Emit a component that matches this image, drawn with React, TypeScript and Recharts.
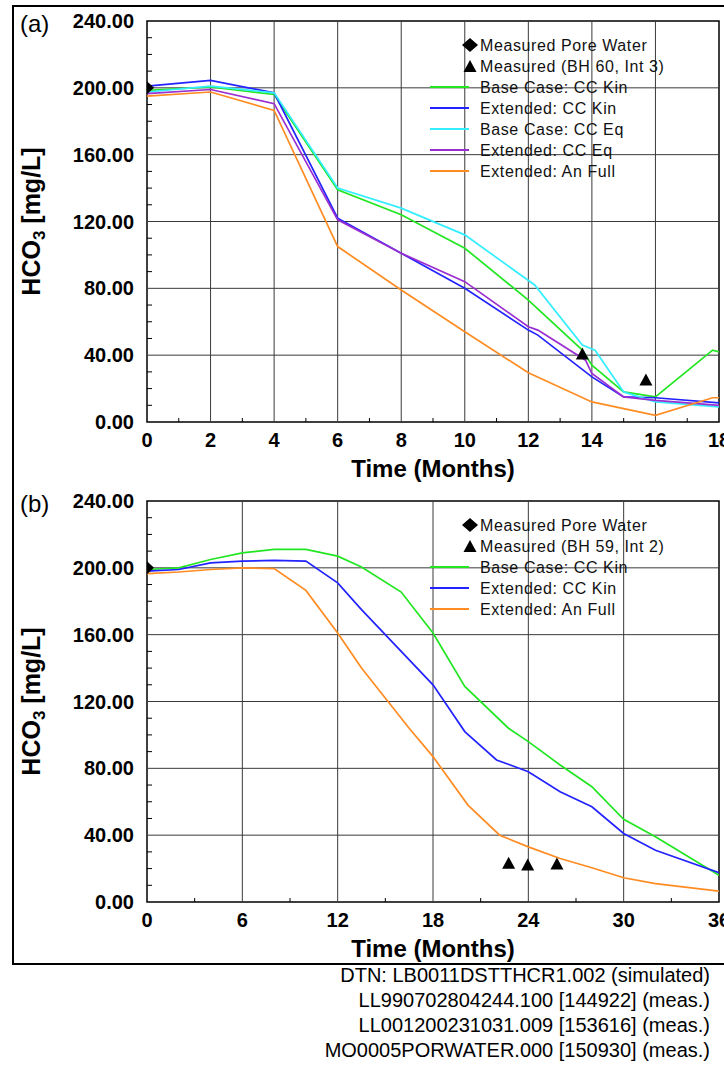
import React from 'react';
import { ComposedChart, Line, Scatter, XAxis, YAxis, ReferenceLine, ReferenceArea } from 'recharts';

const FONT = "'Liberation Sans', Arial, Helvetica, sans-serif";

// ---------- Panel (a) data ----------
const aTimeBaseKin = [0, 2, 4, 6, 8, 10, 12, 13.7, 14, 15, 16, 17.8, 18];
const aBaseKin = [198.5, 200.5, 196, 139, 124, 104, 73, 43, 34, 18, 15, 43, 42];
const aTimeExtKin = [0, 2, 4, 6, 8, 10, 12, 12.3, 14, 15, 16, 18];
const aExtKin = [201, 204.5, 197, 122, 101, 80, 55, 52, 27, 15, 14.5, 11.5];
const aTimeBaseEq = [0, 2, 4, 6, 8, 10, 12.2, 13.7, 14.1, 15, 16, 18];
const aBaseEq = [197.5, 201, 197, 140, 128, 112, 82, 46, 43, 18, 12, 9];
const aTimeExtEq = [0, 2, 4, 6, 8, 10, 12, 12.3, 13.8, 14, 15, 16, 18];
const aExtEq = [196.5, 199, 190.5, 121, 101, 84, 57, 55, 37, 29, 15, 13, 10];
const aTimeAnFull = [0, 2, 4, 6, 8, 10, 12, 14, 15, 16, 17.8, 18];
const aAnFull = [195, 197.5, 186.5, 105, 79, 54, 29.5, 12, 8, 4, 14.5, 14.5];
const aPoreTime = [0];
const aPore = [200];
const aMeasTime = [13.7, 15.7];
const aMeas = [40.7, 25.1];
const aXTicks = [0, 1, 2, 3, 4, 5, 6, 7, 8, 9, 10, 11, 12, 13, 14, 15, 16, 17, 18];
const aXMajor = [0, 2, 4, 6, 8, 10, 12, 14, 16, 18];

// ---------- Panel (b) data ----------
const bTimeBaseKin = [0, 2, 4, 6, 8, 10, 12, 13.5, 16, 18, 20, 22.75, 24, 26, 28, 30, 32, 36];
const bBaseKin = [199, 200, 205, 209, 211, 211, 207, 200.5, 185.5, 161, 129, 104, 96, 82, 69, 49.5, 39, 16];
const bTimeExtKin = [0, 2, 4, 6, 8, 10, 12, 13.5, 18, 20, 22, 24, 26, 28, 30, 32, 36];
const bExtKin = [198, 199, 203, 204, 204.5, 204, 191, 175, 130, 102, 85, 78, 66, 57, 41, 31, 17.5];
const bTimeAnFull = [0, 2, 4, 6, 8, 10, 12, 13.5, 16.5, 18, 20.2, 22.2, 24, 26, 28, 30, 32, 36];
const bAnFull = [196.5, 197.5, 199, 200, 199.5, 186.5, 161, 140, 104, 87, 58, 40, 33, 26, 20.5, 14.5, 11, 6.5];
const bPoreTime = [0];
const bPore = [200];
const bMeasTime = [22.76, 23.96, 25.8];
const bMeas = [23.2, 22.1, 22.7];
const bXTicks = [0, 3, 6, 9, 12, 15, 18, 21, 24, 27, 30, 33, 36];
const bXMajor = [0, 6, 12, 18, 24, 30, 36];

// ---------- shared ----------
const yTicks = [0, 10, 20, 30, 40, 50, 60, 70, 80, 90, 100, 110, 120, 130, 140, 150, 160, 170, 180, 190, 200, 210, 220, 230, 240];
const yMajor = [0, 40, 80, 120, 160, 200, 240];

const C_GREEN = '#22e622';
const C_BLUE = '#2323ff';
const C_CYAN = '#33eeff';
const C_PURPLE = '#9a2ed0';
const C_ORANGE = '#ff8c22';

const zip = (ts: number[], vs: number[]) => ts.map((t, i) => ({ t, v: vs[i] }));

const Diamond = (p: any) => {
  const { cx, cy } = p;
  return <polygon points={`${cx - 7},${cy} ${cx},${cy - 6.5} ${cx + 7},${cy} ${cx},${cy + 6.5}`} fill="#000" />;
};
const Triangle = (p: any) => {
  const { cx, cy } = p;
  return <polygon points={`${cx - 6.5},${cy + 5.5} ${cx},${cy - 6.5} ${cx + 6.5},${cy + 5.5}`} fill="#000" />;
};

const YTick = (props: any) => {
  const { x, y, payload } = props;
  const v = payload.value;
  const major = yMajor.includes(v);
  return (
    <g>
      {!major && <line x1={x} x2={x + 5} y1={y} y2={y} stroke="#000" strokeWidth={1} />}
      {major && (
        <text x={x - 13} y={y + 7} textAnchor="end" fontSize={20} fontWeight="bold" fontFamily={FONT} fill="#000">
          {v.toFixed(2)}
        </text>
      )}
    </g>
  );
};

const makeXTick = (majors: number[]) => (props: any) => {
  const { x, y, payload } = props;
  const v = payload.value;
  const major = majors.includes(v);
  return (
    <g>
      {!major && <line x1={x} x2={x} y1={y} y2={y - 4} stroke="#000" strokeWidth={1} />}
      {major && (
        <text x={x} y={y + 25} textAnchor="middle" fontSize={20} fontWeight="bold" fontFamily={FONT} fill="#000">
          {String(v)}
        </text>
      )}
    </g>
  );
};

type LineDef = { name: string; color: string; data: { t: number; v: number }[] };

function Panel(props: {
  top: number;
  xMax: number;
  xTicks: number[];
  xMajor: number[];
  lines: LineDef[];
  pore: { t: number; v: number }[];
  meas: { t: number; v: number }[];
}) {
  const { top, xMax, xTicks, xMajor, lines, pore, meas } = props;
  const XT = makeXTick(xMajor);
  return (
    <div style={{ position: 'absolute', left: 0, top, width: 724, height: 480 }}>
      <ComposedChart width={724} height={480} margin={{ top: 21, right: 5, bottom: 0, left: 0 }}>
        <XAxis
          type="number"
          dataKey="t"
          domain={[0, xMax]}
          ticks={xTicks}
          interval={0}
          tickSize={0}
          tickMargin={0}
          axisLine={false}
          tickLine={false}
          height={58}
          tick={XT}
          allowDataOverflow
        />
        <YAxis
          type="number"
          dataKey="v"
          domain={[0, 240]}
          ticks={yTicks}
          interval={0}
          tickSize={0}
          tickMargin={0}
          axisLine={false}
          tickLine={false}
          width={147}
          tick={YTick}
          allowDataOverflow
        />
        {xMajor
          .filter((x) => x > 0 && x < xMax)
          .map((x) => (
            <ReferenceLine key={'gx' + x} x={x} stroke="#3a3a3a" strokeWidth={1} />
          ))}
        {yMajor
          .filter((y) => y > 0 && y < 240)
          .map((y) => (
            <ReferenceLine key={'gy' + y} y={y} stroke="#3a3a3a" strokeWidth={1} />
          ))}
        <ReferenceArea x1={0} x2={xMax} y1={0} y2={240} fill="none" stroke="#000" strokeWidth={1.5} ifOverflow="visible" />
        {lines.map((l) => (
          <Line
            key={l.name}
            name={l.name}
            data={l.data}
            dataKey="v"
            type="linear"
            stroke={l.color}
            strokeWidth={1.7}
            dot={false}
            activeDot={false}
            isAnimationActive={false}
          />
        ))}
        <Scatter name="Measured Pore Water" data={pore} dataKey="v" shape={Diamond} isAnimationActive={false} />
        <Scatter name="Measured" data={meas} dataKey="v" shape={Triangle} isAnimationActive={false} />
      </ComposedChart>
    </div>
  );
}

function LegendBlock(props: { y0: number; triLabel: string; lines: LineDef[] }) {
  const { y0, triLabel, lines } = props;
  const dy = 21;
  const cx = 470;
  const textX = 480;
  const txt = (y: number, s: string) => (
    <text x={textX} y={y + 5.8} fontSize={16} letterSpacing={0.6} fontFamily={FONT} fill="#111">
      {s}
    </text>
  );
  return (
    <g>
      <polygon points={`${cx - 8},${y0} ${cx},${y0 - 7} ${cx + 8},${y0} ${cx},${y0 + 7}`} fill="#000" />
      {txt(y0, 'Measured Pore Water')}
      <polygon points={`${cx - 6.5},${y0 + dy + 6} ${cx},${y0 + dy - 6} ${cx + 6.5},${y0 + dy + 6}`} fill="#000" />
      {txt(y0 + dy, triLabel)}
      {lines.map((l, i) => {
        const y = y0 + dy * (i + 2);
        return (
          <g key={l.name}>
            <line x1={430} x2={469} y1={y} y2={y} stroke={l.color} strokeWidth={2} />
            {txt(y, l.name)}
          </g>
        );
      })}
    </g>
  );
}

export default function App() {
  const aLines: LineDef[] = [
    { name: 'Base Case: CC Kin', color: C_GREEN, data: zip(aTimeBaseKin, aBaseKin) },
    { name: 'Extended: CC Kin', color: C_BLUE, data: zip(aTimeExtKin, aExtKin) },
    { name: 'Base Case: CC Eq', color: C_CYAN, data: zip(aTimeBaseEq, aBaseEq) },
    { name: 'Extended: CC Eq', color: C_PURPLE, data: zip(aTimeExtEq, aExtEq) },
    { name: 'Extended: An Full', color: C_ORANGE, data: zip(aTimeAnFull, aAnFull) },
  ];
  const bLines: LineDef[] = [
    { name: 'Base Case: CC Kin', color: C_GREEN, data: zip(bTimeBaseKin, bBaseKin) },
    { name: 'Extended: CC Kin', color: C_BLUE, data: zip(bTimeExtKin, bExtKin) },
    { name: 'Extended: An Full', color: C_ORANGE, data: zip(bTimeAnFull, bAnFull) },
  ];

  const yTitle = (cy: number) => (
    <text
      transform={`translate(40, ${cy}) rotate(-90)`}
      textAnchor="middle"
      fontSize={25}
      fontWeight="bold"
      fontFamily={FONT}
      fill="#000"
    >
      HCO<tspan fontSize={17} dy={5}>3</tspan>
      <tspan dy={-5}> [mg/L]</tspan>
    </text>
  );

  return (
    <div
      style={{
        position: 'fixed',
        left: 0,
        top: 0,
        width: 724,
        height: 1076,
        overflow: 'hidden',
        background: '#fff',
        fontFamily: FONT,
      }}
    >
      <div
        style={{
          position: 'absolute',
          left: 12,
          top: 5,
          width: 760,
          height: 960,
          boxSizing: 'border-box',
          borderLeft: '2px solid #000',
          borderTop: '2px solid #000',
          borderBottom: '2px solid #000',
        }}
      />
      <Panel top={0} xMax={18} xTicks={aXTicks} xMajor={aXMajor} lines={aLines} pore={zip(aPoreTime, aPore)} meas={zip(aMeasTime, aMeas)} />
      <Panel top={480} xMax={36} xTicks={bXTicks} xMajor={bXMajor} lines={bLines} pore={zip(bPoreTime, bPore)} meas={zip(bMeasTime, bMeas)} />
      <svg width={724} height={1076} style={{ position: 'absolute', left: 0, top: 0, pointerEvents: 'none' }}>
        <text x={20} y={32} fontSize={24} fontFamily={FONT} fill="#000">(a)</text>
        <text x={20} y={512} fontSize={24} fontFamily={FONT} fill="#000">(b)</text>
        {yTitle(221.5)}
        {yTitle(701.5)}
        <text x={433} y={477} textAnchor="middle" fontSize={24} fontWeight="bold" fontFamily={FONT} fill="#000">Time (Months)</text>
        <text x={433} y={957} textAnchor="middle" fontSize={24} fontWeight="bold" fontFamily={FONT} fill="#000">Time (Months)</text>
        <LegendBlock y0={45} triLabel="Measured (BH 60, Int 3)" lines={aLines} />
        <LegendBlock y0={525} triLabel="Measured (BH 59, Int 2)" lines={bLines} />
        <g fontSize={20} fontFamily={FONT} fill="#000" textAnchor="end">
          <text x={710} y={982}>DTN: LB0011DSTTHCR1.002 (simulated)</text>
          <text x={710} y={1007}>LL990702804244.100 [144922] (meas.)</text>
          <text x={710} y={1032}>LL001200231031.009 [153616] (meas.)</text>
          <text x={710} y={1057}>MO0005PORWATER.000 [150930] (meas.)</text>
        </g>
      </svg>
    </div>
  );
}
